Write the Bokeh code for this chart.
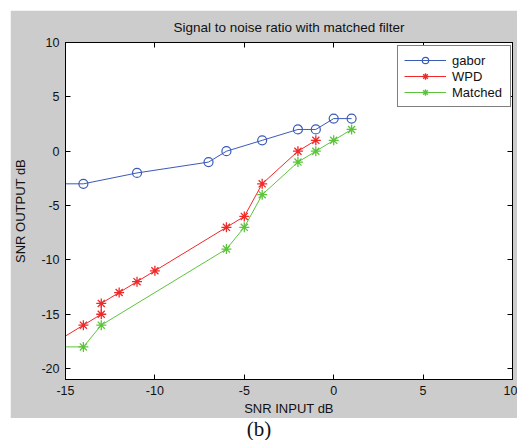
from bokeh.plotting import figure
from bokeh.models import (Range1d, LinearAxis, FixedTicker, Legend, LegendItem, Div,
                          CustomLabelingPolicy)
from bokeh.layouts import column
from bokeh.embed import file_html
from bokeh.resources import INLINE

# ---- data ----
x_gabor = [-16, -14, -11, -7, -6, -4, -2, -1, 0, 1]
y_gabor = [-3, -3, -2, -1, 0, 1, 2, 2, 3, 3]
x_wpd = [-16, -14, -13, -13, -12, -11, -10, -6, -5, -4, -2, -1]
y_wpd = [-18, -16, -15, -14, -13, -12, -11, -7, -6, -3, 0, 1]
x_matched = [-16, -14, -13, -6, -5, -4, -2, -1, 0, 1]
y_matched = [-18, -18, -16, -9, -7, -4, -1, 0, 1, 2]
x_ticks = [-15, -10, -5, 0, 5, 10]
y_ticks = [-20, -15, -10, -5, 0, 5, 10]
series_names = ["gabor", "WPD", "Matched"]

FONT = "Liberation Sans"
BLUE = "#3a5ab8"
RED = "#f02828"
GREEN = "#5cc43c"

p = figure(width=507, height=408, x_range=Range1d(-15, 10), y_range=Range1d(-21, 10),
           output_backend="svg", toolbar_location=None,
           min_border_left=52, min_border_right=3, min_border_top=32, min_border_bottom=39,
           background_fill_color="white", border_fill_color="#cccccc",
           outline_line_color="black", outline_line_width=1,
           title="Signal to noise ratio with matched filter")
p.margin = (10, 0, 0, 10)
p.grid.visible = False
p.title.align = "center"
p.title.text_font = FONT
p.title.text_font_size = "13.5px"
p.title.text_font_style = "normal"
p.title.text_color = "#111111"
p.title.standoff = 7

no_labels = CustomLabelingPolicy(code="""
    for (const i of indices) {
        indices.unset(i)
    }
    return indices
""")

def style_axis(ax, ticks, show_labels=True):
    ax.ticker = FixedTicker(ticks=ticks)
    ax.major_tick_in = 5
    ax.major_tick_out = 0
    ax.minor_tick_line_color = None
    ax.axis_line_color = "black"
    ax.major_tick_line_color = "black"
    ax.major_label_text_font = FONT
    ax.major_label_text_color = "#111111"
    if show_labels:
        ax.major_label_text_font_size = "12.5px"
        ax.major_label_overrides = {t: str(t) for t in ticks}
        ax.major_label_standoff = 6
    else:
        ax.major_label_text_font_size = "1px"
        ax.major_label_standoff = 0
        ax.major_label_policy = no_labels
    ax.axis_label_text_font = FONT
    ax.axis_label_text_font_size = "13px"
    ax.axis_label_text_font_style = "normal"
    ax.axis_label_text_color = "#111111"

style_axis(p.xaxis[0], x_ticks)
style_axis(p.yaxis[0], y_ticks)
p.xaxis[0].axis_label = "SNR INPUT dB"
p.xaxis[0].axis_label_standoff = 3
p.yaxis[0].axis_label = "SNR OUTPUT dB"
p.yaxis[0].axis_label_standoff = 10

top_ax = LinearAxis()
style_axis(top_ax, x_ticks, show_labels=False)
p.add_layout(top_ax, "above")
right_ax = LinearAxis()
style_axis(right_ax, y_ticks, show_labels=False)
p.add_layout(right_ax, "right")

lg = p.line(x_gabor, y_gabor, line_color=BLUE, line_width=1)
sg = p.scatter(x_gabor, y_gabor, marker="circle", size=9, line_color=BLUE,
               fill_color=None, line_width=1.2)
lw = p.line(x_wpd, y_wpd, line_color=RED, line_width=1)
sw = p.scatter(x_wpd, y_wpd, marker="asterisk", size=10, line_color=RED, line_width=1.3)
lm = p.line(x_matched, y_matched, line_color=GREEN, line_width=1)
sm = p.scatter(x_matched, y_matched, marker="asterisk", size=10, line_color=GREEN, line_width=1.3)

legend = Legend(items=[
    LegendItem(label=series_names[0], renderers=[lg, sg]),
    LegendItem(label=series_names[1], renderers=[lw, sw]),
    LegendItem(label=series_names[2], renderers=[lm, sm]),
], location=(332, 272))
legend.border_line_color = "black"
legend.border_line_width = 1
legend.background_fill_color = "white"
legend.background_fill_alpha = 1
legend.label_text_font = FONT
legend.label_text_font_size = "13px"
legend.label_text_color = "#111111"
legend.glyph_width = 42
legend.glyph_height = 16
legend.label_height = 16
legend.label_width = 52
legend.label_standoff = 6
legend.padding = 6
legend.spacing = 0
legend.margin = 0
p.add_layout(legend, "center")

caption = Div(text="(b)", width=507, height=22, margin=(0, 0, 0, 10),
              styles={"text-align": "center", "font-family": "Liberation Serif",
                      "font-size": "21px", "line-height": "22px", "color": "#111111",
                      "padding-right": "9px", "box-sizing": "border-box",
                      "background": "white"})

layout = column(p, caption, spacing=0)
open("out.html", "w").write(file_html(layout, INLINE))
